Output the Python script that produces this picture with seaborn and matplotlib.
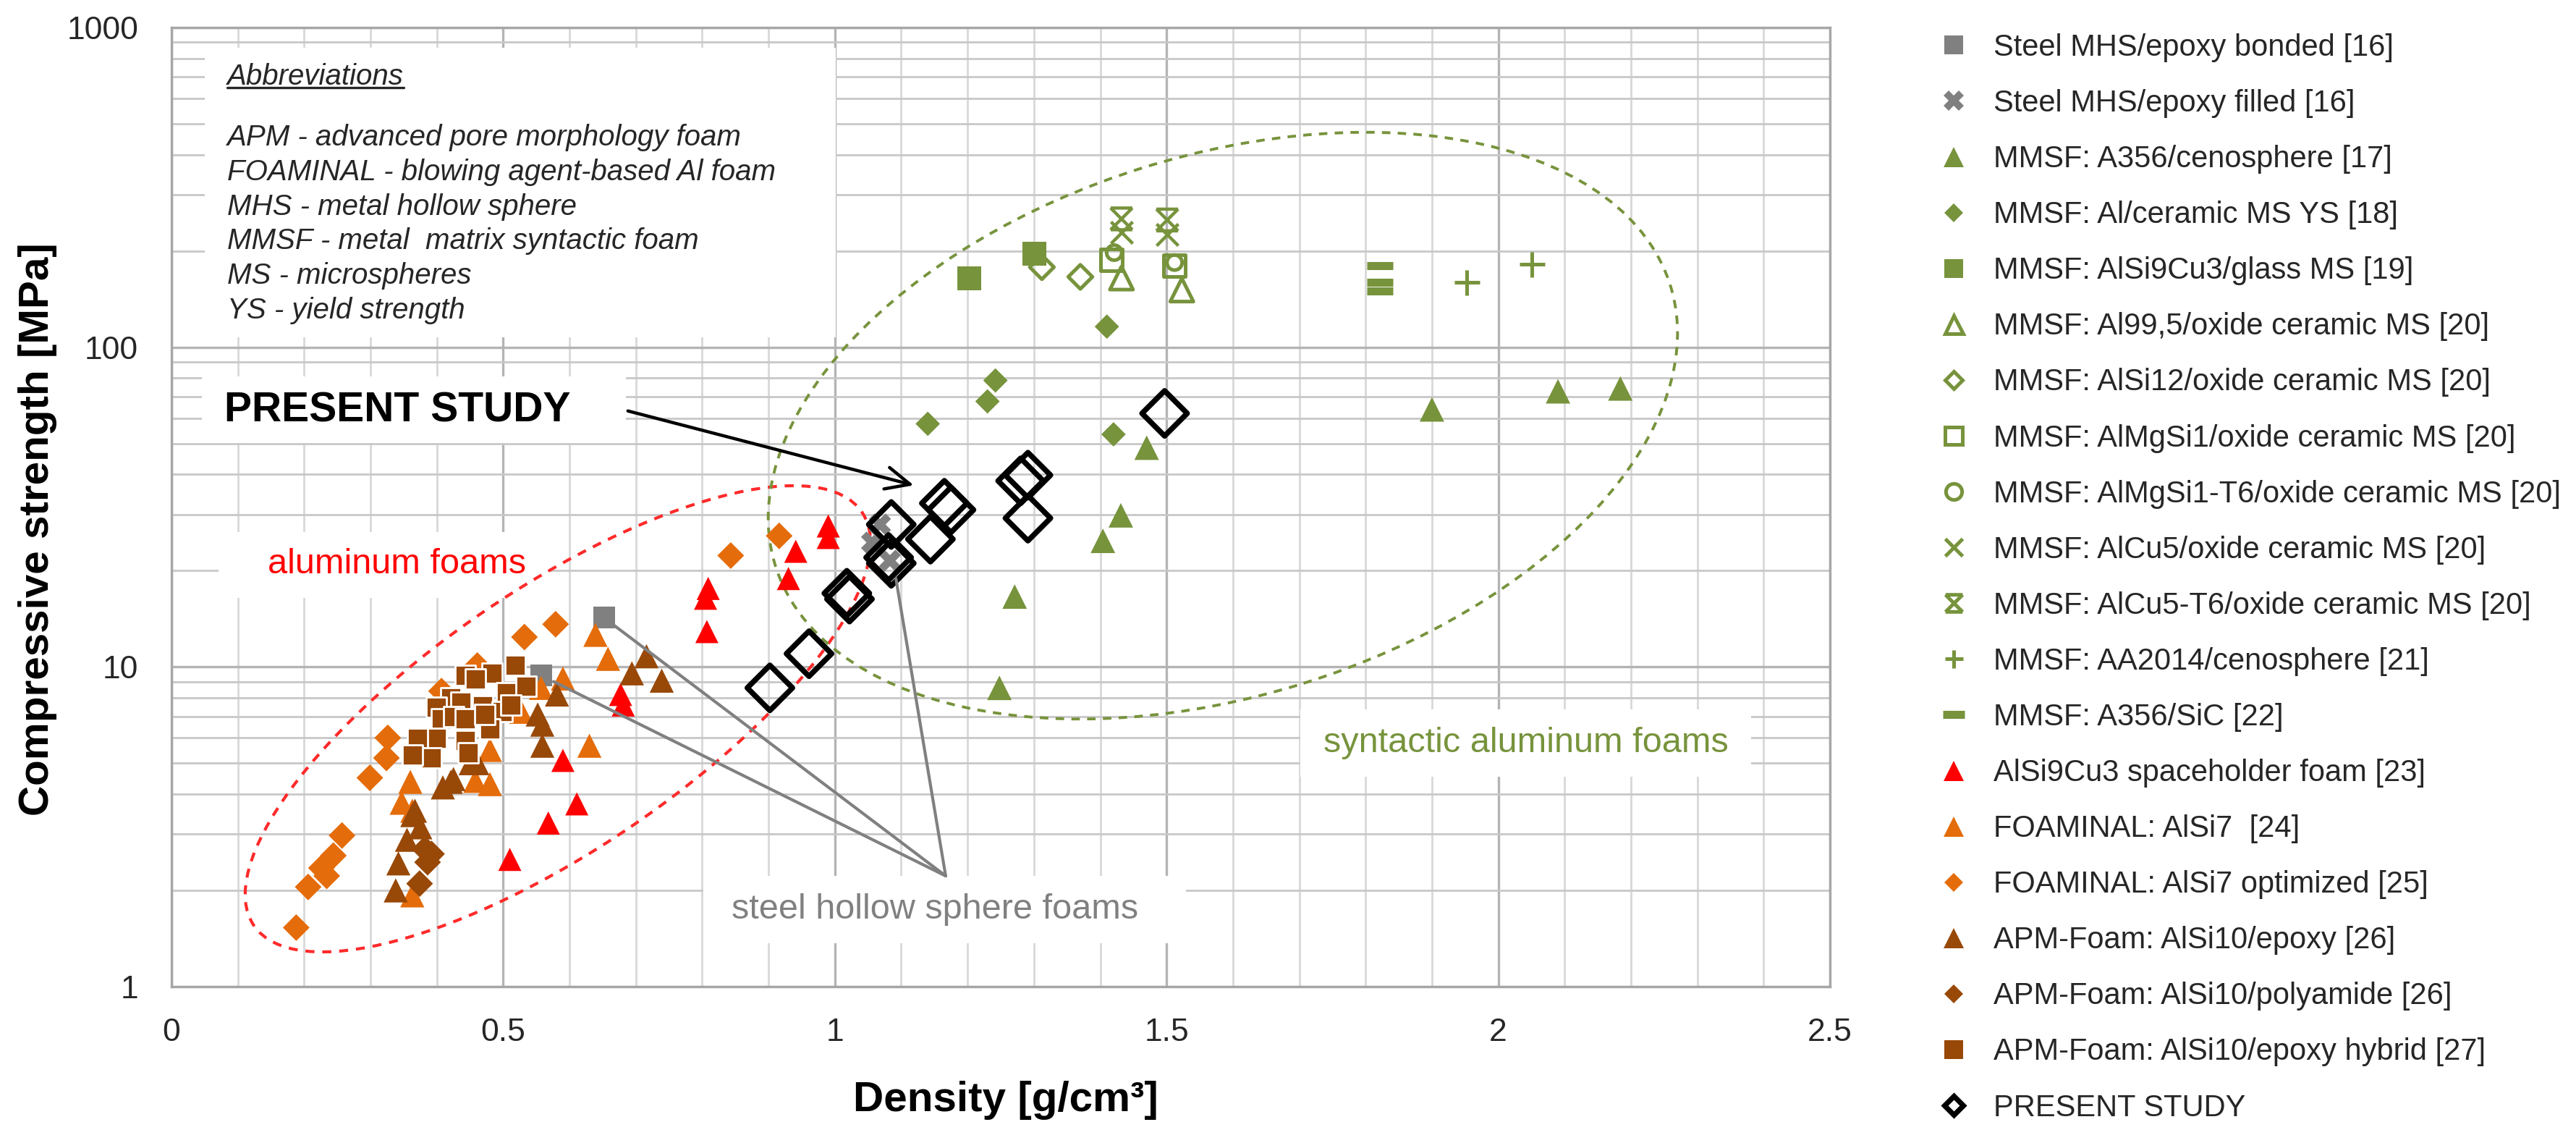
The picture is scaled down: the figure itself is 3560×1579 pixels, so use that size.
import matplotlib
matplotlib.use("Agg")
import matplotlib.pyplot as plt
import seaborn as sns
from matplotlib.lines import Line2D
from matplotlib.patches import Ellipse, Rectangle
from matplotlib.path import Path
from matplotlib.ticker import MultipleLocator, LogLocator, FuncFormatter, NullFormatter

# output size
W, H, DPI = 3560, 1579, 200

# ---------------------------------------------------------------------------
# data  (density g/cm3, compressive strength MPa)
steel_bonded_x = [0.652, 0.557]
steel_bonded_y = [14.3, 9.4]
steel_filled_x = [1.068, 1.056, 1.083]
steel_filled_y = [27.9, 24.5, 21.5]
a356_ceno_x = [1.248, 1.271, 1.404, 1.431, 1.470, 1.900, 2.090, 2.184]
a356_ceno_y = [8.6, 16.6, 24.8, 29.8, 48.5, 63.9, 72.8, 74.3]
al_ceramic_x = [1.140, 1.230, 1.242, 1.420, 1.410]
al_ceramic_y = [57.6, 67.7, 78.7, 53.4, 116.0]
alsi9cu3_glass_x = [1.203, 1.301]
alsi9cu3_glass_y = [164.6, 195.8]
al995_x = [1.432, 1.523]
al995_y = [164.6, 151.0]
alsi12_x = [1.312, 1.370]
alsi12_y = [178.0, 166.0]
almgsi1_x = [1.417, 1.512]
almgsi1_y = [187.5, 179.5]
almgsi1_t6_x = [1.421, 1.512]
almgsi1_t6_y = [197.6, 184.0]
alcu5_x = [1.432, 1.501]
alcu5_y = [229.0, 225.0]
alcu5_t6_x = [1.432, 1.501]
alcu5_t6_y = [252.0, 250.0]
aa2014_x = [1.952, 2.051]
aa2014_y = [160.0, 182.0]
a356_sic_x = [1.822, 1.822, 1.822]
a356_sic_y = [180.0, 160.0, 150.0]
spaceholder_x = [0.510, 0.568, 0.611, 0.590, 0.677, 0.681, 0.807, 0.805, 0.809,
                 0.930, 0.941, 0.990, 0.990]
spaceholder_y = [2.5, 3.25, 3.73, 5.1, 8.2, 7.6, 12.9, 16.4, 17.6,
                 18.9, 23.0, 25.4, 27.6]
foaminal_x = [0.363, 0.363, 0.347, 0.360, 0.458, 0.480, 0.480, 0.527, 0.557,
              0.590, 0.630, 0.639, 0.658]
foaminal_y = [1.93, 3.55, 3.76, 4.37, 4.4, 4.3, 5.5, 7.24, 8.6,
              9.2, 5.67, 12.6, 10.6]
foaminal_opt_x = [0.188, 0.206, 0.226, 0.234, 0.244, 0.257, 0.299, 0.324, 0.326,
                  0.407, 0.461, 0.532, 0.579, 0.843, 0.916]
foaminal_opt_y = [1.53, 2.05, 2.35, 2.22, 2.57, 2.97, 4.5, 5.19, 6.0,
                  8.4, 10.1, 12.4, 13.6, 22.3, 25.7]
apm_epoxy_x = [0.338, 0.342, 0.355, 0.363, 0.375, 0.367, 0.409, 0.421, 0.425,
               0.451, 0.461, 0.552, 0.559, 0.559, 0.581, 0.694, 0.716, 0.739]
apm_epoxy_y = [2.0, 2.43, 2.88, 3.44, 3.15, 3.55, 4.2, 4.37, 4.46,
               5.0, 5.0, 7.1, 6.6, 5.67, 8.2, 9.55, 10.8, 9.06]
apm_polyamide_x = [0.374, 0.382, 0.392, 0.386]
apm_polyamide_y = [2.1, 2.69, 2.6, 2.45]
apm_hybrid_x = [0.518, 0.483, 0.443, 0.458, 0.421, 0.436, 0.469, 0.505, 0.498,
                0.534, 0.399, 0.407, 0.425, 0.443, 0.399, 0.371, 0.392, 0.443,
                0.447, 0.480, 0.363, 0.472, 0.512]
apm_hybrid_y = [10.1, 9.55, 9.4, 9.15, 8.0, 7.75, 7.55, 8.3, 7.24,
                8.7, 7.5, 6.9, 7.0, 6.9, 5.97, 5.97, 5.19, 5.88,
                5.38, 6.39, 5.3, 7.1, 7.6]
present_x = [0.902, 0.961, 1.018, 1.022, 1.081, 1.085, 1.085, 1.144, 1.165,
             1.175, 1.280, 1.291, 1.291, 1.497]
present_y = [8.6, 11.0, 17.0, 16.3, 22.0, 21.1, 27.9, 25.1, 32.5,
             31.0, 38.2, 39.8, 29.2, 62.1]

abbrev_lines = ["APM - advanced pore morphology foam",
                "FOAMINAL - blowing agent-based Al foam",
                "MHS - metal hollow sphere",
                "MMSF - metal  matrix syntactic foam",
                "MS - microspheres",
                "YS - yield strength"]

# ---------------------------------------------------------------------------
# colours
GREEN = '#77933C'
RED = '#FF0000'
ORANGE = '#E46C0A'
BROWN = '#984807'
GREY = '#808080'
TXT = '#262626'

# X marker with bars on top and bottom
xbar = Path([(-1, -1), (1, 1), (-1, 1), (1, -1), (-1, 1), (1, 1), (-1, -1), (1, -1)],
            [Path.MOVETO, Path.LINETO] * 4)

# (label, x, y, marker, face, edge, lw, size pt, legend size pt, legend mew)
series = [
    ("Steel MHS/epoxy bonded [16]", steel_bonded_x, steel_bonded_y, 's', GREY, None, 0, 10.8, 9.5, 0),
    ("Steel MHS/epoxy filled [16]", steel_filled_x, steel_filled_y, 'X', GREY, None, 0, 11, 10, 0),
    ("MMSF: A356/cenosphere [17]", a356_ceno_x, a356_ceno_y, '^', GREEN, None, 0, 12.2, 10, 0),
    ("MMSF: Al/ceramic MS YS [18]", al_ceramic_x, al_ceramic_y, 'D', GREEN, None, 0, 8.6, 6.5, 0),
    ("MMSF: AlSi9Cu3/glass MS [19]", alsi9cu3_glass_x, alsi9cu3_glass_y, 's', GREEN, None, 0, 11.9, 9.5, 0),
    ("MMSF: Al99,5/oxide ceramic MS [20]", al995_x, al995_y, '^', 'none', GREEN, 1.8, 11.5, 9, 1.8),
    ("MMSF: AlSi12/oxide ceramic MS [20]", alsi12_x, alsi12_y, 'D', 'none', GREEN, 1.8, 8.5, 6, 1.8),
    ("MMSF: AlMgSi1/oxide ceramic MS [20]", almgsi1_x, almgsi1_y, 's', 'none', GREEN, 1.8, 10.8, 8.5, 1.8),
    ("MMSF: AlMgSi1-T6/oxide ceramic MS [20]", almgsi1_t6_x, almgsi1_t6_y, 'o', 'none', GREEN, 1.8, 7.5, 8, 1.8),
    ("MMSF: AlCu5/oxide ceramic MS [20]", alcu5_x, alcu5_y, 'x', GREEN, None, 1.6, 10.8, 8.5, 1.8),
    ("MMSF: AlCu5-T6/oxide ceramic MS [20]", alcu5_t6_x, alcu5_t6_y, xbar, 'none', GREEN, 1.6, 10.8, 8.5, 1.8),
    ("MMSF: AA2014/cenosphere [21]", aa2014_x, aa2014_y, '+', GREEN, None, 1.8, 12.6, 9, 1.8),
    ("MMSF: A356/SiC [22]", a356_sic_x, a356_sic_y, '_', GREEN, None, 4, 13.3, 10.5, 4),
    ("AlSi9Cu3 spaceholder foam [23]", spaceholder_x, spaceholder_y, '^', RED, None, 0, 11.5, 10, 0),
    ("FOAMINAL: AlSi7  [24]", foaminal_x, foaminal_y, '^', ORANGE, None, 0, 12, 10, 0),
    ("FOAMINAL: AlSi7 optimized [25]", foaminal_opt_x, foaminal_opt_y, 'D', ORANGE, None, 0, 9.4, 6.5, 0),
    ("APM-Foam: AlSi10/epoxy [26]", apm_epoxy_x, apm_epoxy_y, '^', BROWN, None, 0, 12, 10, 0),
    ("APM-Foam: AlSi10/polyamide [26]", apm_polyamide_x, apm_polyamide_y, 'D', BROWN, None, 0, 9.4, 6.5, 0),
    ("APM-Foam: AlSi10/epoxy hybrid [27]", apm_hybrid_x, apm_hybrid_y, 's', BROWN, 'white', 1.0, 10.0, 9.5, 0),
    ("PRESENT STUDY", present_x, present_y, 'D', 'none', 'black', 2.7, 15.9, 6.6, 2.6),
]

sns.set_theme(style='white')
plt.rcParams['font.family'] = ['Liberation Sans', 'DejaVu Sans']


def fxy(x, y):
    """picture pixel -> figure fraction"""
    return x / W, 1 - y / H


def inch(x, y):
    """picture pixel -> inches from lower left (for dpi_scale_trans)"""
    return x / DPI, (H - y) / DPI


fig = plt.figure(figsize=(W / DPI, H / DPI), dpi=DPI)
L, R, T, B = 237, 2529, 38, 1363
ax = fig.add_axes([L / W, 1 - B / H, (R - L) / W, (B - T) / H])

# ---------------------------------------------------------------------------
# points
for i, (lab, xs, ys, mk, fc, ec, lw, ms, lms, lmew) in enumerate(series):
    kw = dict(marker=mk, s=ms ** 2, linewidth=lw, zorder=3 + i * 0.01, legend=False)
    kw['color'] = fc
    if ec is None:
        if mk not in ('x', '+', '_'):
            kw['edgecolor'] = 'none'
    else:
        kw['edgecolor'] = ec
    sns.scatterplot(x=xs, y=ys, ax=ax, **kw)

ax.set_xlim(0, 2.5)
ax.set_yscale('log')
ax.set_ylim(1, 1000)

# axes / grid
ax.set_axisbelow(True)
ax.xaxis.set_major_locator(MultipleLocator(0.5))
ax.xaxis.set_minor_locator(MultipleLocator(0.1))
ax.yaxis.set_major_locator(LogLocator(base=10))
ax.yaxis.set_minor_locator(LogLocator(base=10, subs=range(2, 10)))
ax.yaxis.set_minor_formatter(NullFormatter())
ax.xaxis.set_major_formatter(FuncFormatter(lambda v, p: '%g' % v))
ax.yaxis.set_major_formatter(FuncFormatter(lambda v, p: '%g' % v))

ax.grid(which='major', color='#B4B4B4', lw=1.2)
ax.xaxis.grid(True, which='minor', color='#D8D8D8', lw=1.0)
ax.yaxis.grid(True, which='minor', color='#C8C8C8', lw=1.0)
for sp in ax.spines.values():
    sp.set_color('#A6A6A6')
    sp.set_linewidth(1.2)

ax.tick_params(axis='x', which='both', direction='out', length=4.7, width=1.0,
               color='#A6A6A6', labelsize=16, pad=10.8, labelcolor=TXT)
ax.tick_params(axis='y', which='both', length=0, labelsize=16, pad=16.5, labelcolor=TXT)

ax.set_xlabel('Density [g/cm³]', fontsize=21, fontweight='bold', color='black')
ax.set_ylabel('Compressive strength [MPa]', fontsize=21, fontweight='bold', color='black')
ax.xaxis.label.set_va('center')
ax.yaxis.label.set_va('center')
ax.xaxis.set_label_coords((1390 - L) / (R - L), (B - 1520) / (B - T))
ax.yaxis.set_label_coords((52 - L) / (R - L), (B - 731) / (B - T))

# white boxes behind the notes
for (x0, y0, x1, y1) in [(283, 66, 1155, 466), (279, 520, 865, 612), (302, 735, 757, 826),
                         (972, 1210, 1639, 1303), (1797, 980, 2420, 1073)]:
    ax.add_patch(Rectangle(inch(x0, y1), (x1 - x0) / DPI, (y1 - y0) / DPI,
                           transform=fig.dpi_scale_trans, fc='white', ec='none',
                           zorder=1, clip_on=False))

# dashed ellipses
ax.add_patch(Ellipse(inch(771, 993), 1016 / DPI, 360 / DPI, angle=34.2,
                     transform=fig.dpi_scale_trans, fill=False, ec='#FF2A2A',
                     lw=1.5, ls=(0, (3, 2.6)), zorder=2))
ax.add_patch(Ellipse(inch(1690, 588), 1296 / DPI, 746 / DPI, angle=17.4,
                     transform=fig.dpi_scale_trans, fill=False, ec=GREEN,
                     lw=1.4, ls=(0, (3, 2.6)), zorder=2))

# pointer lines to the steel hollow sphere points
for tgt in [(0.667, 13.5), (0.576, 9.0), (1.092, 18.9)]:
    ax.annotate('', xy=tgt, xytext=(1.167, 2.22),
                arrowprops=dict(arrowstyle='-', color=GREY, lw=1.5,
                                shrinkA=0, shrinkB=0), zorder=4)

# arrow to present study
ax.annotate('', xy=(1.119, 37.0), xytext=(0.688, 63.2),
            arrowprops=dict(arrowstyle='->,head_length=1.2,head_width=0.55',
                            color='black', lw=1.6, shrinkA=0, shrinkB=0,
                            mutation_scale=10), zorder=5)

# notes
fig.text(*fxy(310, 583), 'PRESENT STUDY', fontsize=20.5, fontweight='bold',
         color='black', ha='left', va='baseline')
fig.text(*fxy(549, 792), 'aluminum foams', fontsize=17.5, color=RED,
         ha='center', va='baseline')
fig.text(*fxy(1292, 1269), 'steel hollow sphere foams', fontsize=17.5, color=GREY,
         ha='center', va='baseline')
fig.text(*fxy(2109, 1039), 'syntactic aluminum foams', fontsize=17.5, color=GREEN,
         ha='center', va='baseline')

head = fig.text(*fxy(314, 117), 'Abbreviations', fontsize=14.5, style='italic',
                color=TXT, ha='left', va='baseline')
for k, line in enumerate(abbrev_lines):
    fig.text(*fxy(314, 201 + k * 47.8), line, fontsize=14.5, style='italic',
             color=TXT, ha='left', va='baseline')

# underline for the heading
fig.canvas.draw()
bb = head.get_window_extent().transformed(fig.transFigure.inverted())
uy = 1 - 121 / H
fig.add_artist(Line2D([bb.x0, bb.x1], [uy, uy], color=TXT, lw=1.2,
                      transform=fig.transFigure))

# legend
handles = []
for (lab, xs, ys, mk, fc, ec, lw, ms, lms, lmew) in series:
    if ec is None:
        h = Line2D([], [], ls='none', marker=mk, markersize=lms, color=fc,
                   markeredgecolor=fc if mk in ('x', '+', '_') else 'none',
                   markeredgewidth=lmew)
    else:
        h = Line2D([], [], ls='none', marker=mk, markersize=lms,
                   markerfacecolor=fc,
                   markeredgecolor=ec if ec != 'white' else 'none',
                   markeredgewidth=lmew)
    handles.append(h)

fig.legend(handles, [s[0] for s in series], loc='upper left',
           bbox_to_anchor=(2679 / W, 1 - 46 / H), frameon=False, fontsize=15,
           handlelength=1.0, handletextpad=0.82, labelspacing=0.89,
           borderpad=0, borderaxespad=0, labelcolor=TXT)

fig.savefig('out.png', dpi=DPI)
